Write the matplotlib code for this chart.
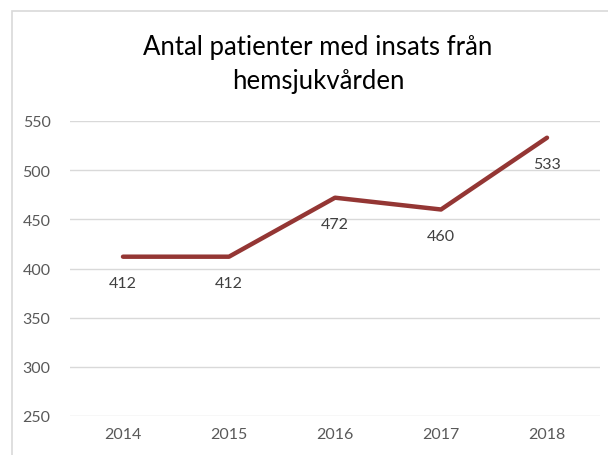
import matplotlib.pyplot as plt
from matplotlib.patches import Rectangle

years = ['2014', '2015', '2016', '2017', '2018']
patients = [412, 412, 472, 460, 533]

plt.rcParams['font.family'] = ['Lato', 'DejaVu Sans']

fig = plt.figure(figsize=(6.08, 4.56), dpi=100)
# chart frame (cropped at right and bottom)
fig.patches.append(Rectangle((12 / 608, -0.1), 1.2, 1 - 12 / 456 + 0.1,
                             transform=fig.transFigure, fill=False,
                             edgecolor='#d9d9d9', linewidth=1.2))

ax = fig.add_axes([70 / 608, 1 - 417 / 456, 530 / 608, 295 / 456])
x = range(len(years))
ax.plot(x, patients, color='#943634', linewidth=3.2, solid_capstyle='round')
for xi, v in zip(x, patients):
    ax.annotate(str(v), (xi, v), xytext=(0, -19), textcoords='offset points',
                ha='center', va='center', fontsize=11.5, color='#404040')

ax.set_xlim(-0.5, len(years) - 0.5)
ax.set_ylim(250, 550)
ax.set_yticks(range(250, 551, 50))
ax.set_xticks(list(x))
ax.set_xticklabels(years)
ax.yaxis.grid(True, color='#d9d9d9', linewidth=1)
ax.set_axisbelow(True)
for s in ax.spines.values():
    s.set_visible(False)
ax.tick_params(length=0, labelsize=11.5, colors='#595959', pad=14)
ax.tick_params(axis='x', pad=8)

fig.text(318 / 608, 1 - 64 / 456, 'Antal patienter med insats från\nhemsjukvården',
         ha='center', va='center', fontsize=18.5, color='#000000', linespacing=1.45)

fig.savefig('out.png', dpi=100)
